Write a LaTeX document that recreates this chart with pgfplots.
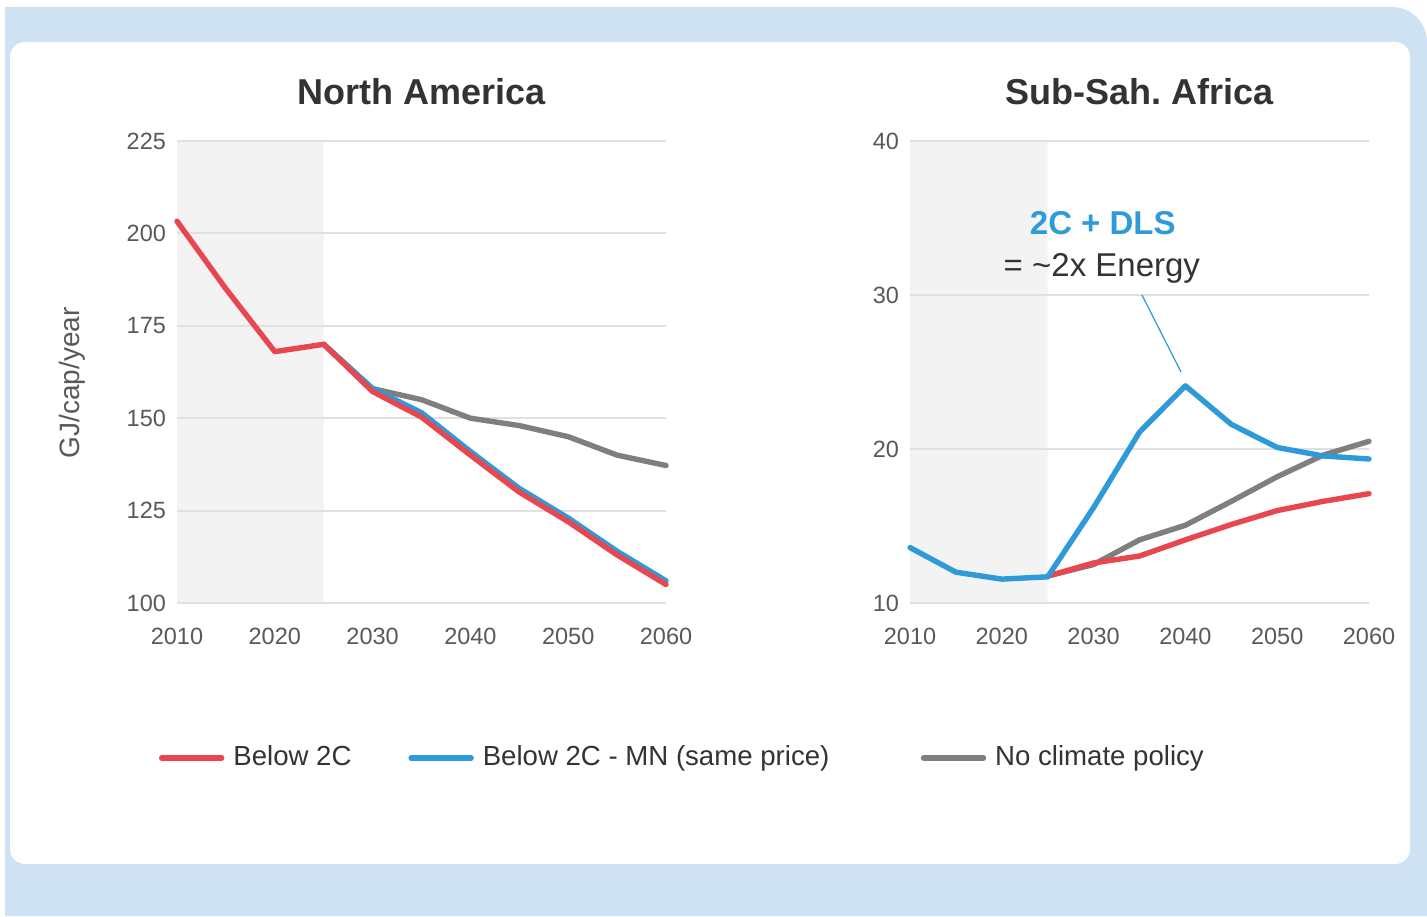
\documentclass[border=0pt]{standalone}
\usepackage{fontspec}
\setmainfont{Liberation Sans}
\usepackage{pgfplots}
\pgfplotsset{compat=1.18}
\definecolor{bgblue}{HTML}{CFE2F3}
\definecolor{cred}{HTML}{E8474F}
\definecolor{cblue}{HTML}{2E9AD8}
\definecolor{cgray}{HTML}{7F7F7F}
\definecolor{ctitle}{HTML}{333333}
\definecolor{ctick}{HTML}{595959}
\definecolor{cgrid}{HTML}{E0E0E0}
\definecolor{cshade}{HTML}{F3F3F3}

\pgfplotsset{
 myaxis/.style={
  scale only axis, clip=false,
  axis line style={draw=none},
  major tick length=0pt,
  xmin=2010, xmax=2060, xtick={2010,2020,...,2060},
  /pgf/number format/assume math mode=true,
  /pgf/number format/1000 sep={},
  ticklabel style={font=\fontsize{11.75}{14}\selectfont, text=ctick},
  xticklabel style={yshift=-9pt},
  yticklabel style={xshift=-2pt},
  title style={at={(0.5,1)}, anchor=base, yshift=12pt, font=\fontsize{18}{21}\selectfont\bfseries, text=ctitle},
  every axis plot/.append style={line width=2.7pt, line join=round, line cap=round},
  grid line/.style={cgrid, line width=1pt, line cap=butt, forget plot},
 }
}

\begin{document}
\frenchspacing
\begin{tikzpicture}
\fill[bgblue] (2.5pt,0) -- (2.5pt,454.5pt) -- (696pt,454.5pt) arc[start angle=90,end angle=0,radius=17.5pt] -- (713.5pt,0) -- cycle;
\fill[white,rounded corners=7.5pt] (5pt,26pt) rectangle (705pt,437pt);
\node[rotate=90, font=\fontsize{14}{16}\selectfont, text=ctick] at (36pt,266.5pt) {GJ/cap/year};

\begin{axis}[myaxis, at={(88.5pt,156.5pt)}, anchor=south west,
  width=244.5pt, height=231pt, ymin=100, ymax=225, ytick={100,125,...,225},
  title={North America},
  legend columns=3,
  legend style={draw=none, fill=none, inner sep=0pt, outer sep=0pt,
    at={(-0.0368,-0.3333)}, anchor=west,
    font=\fontsize{13.8}{16}\selectfont, text=ctitle,
    cells={anchor=west},
    nodes={inner sep=0pt, outer sep=0pt},
    column sep=0pt,
    /tikz/every odd column/.append style={column sep=4.5pt}},
  legend image code/.code={\path (0pt,-0.5pt) -- (30pt,-0.5pt); \draw[#1, line width=3.4pt, line cap=round] (1.7pt,-0.5pt) -- (28.6pt,-0.5pt);},
]
\addlegendimage{cred}
\addlegendentry{\makebox[87.5pt][l]{Below 2C}}
\addlegendimage{cblue}
\addlegendentry{\makebox[219pt][l]{Below 2C - MN (same price)}}
\addlegendimage{cgray}
\addlegendentry{No climate policy}

\addplot[fill=cshade, draw=none, forget plot, line width=0pt]
  coordinates {(2010,100) (2025,100) (2025,225) (2010,225) (2010,100)};
\addplot[grid line] coordinates {(2010,100) (2060,100)};
\addplot[grid line] coordinates {(2010,125) (2060,125)};
\addplot[grid line] coordinates {(2010,150) (2060,150)};
\addplot[grid line] coordinates {(2010,175) (2060,175)};
\addplot[grid line] coordinates {(2010,200) (2060,200)};
\addplot[grid line] coordinates {(2010,225) (2060,225)};

\addplot[cgray, forget plot] coordinates {
 (2025,170) (2030,158) (2035,155) (2040,150) (2045,148) (2050,145) (2055,140) (2060,137.2)};
\addplot[cblue, forget plot] coordinates {
 (2025,170) (2030,158) (2035,151.5) (2040,141) (2045,131) (2050,123) (2055,114) (2060,106)};
\addplot[cred, forget plot] coordinates {
 (2010,203.3) (2015,185) (2020,168) (2025,170) (2030,157.2) (2035,150.3) (2040,140) (2045,130) (2050,122) (2055,113) (2060,105)};
\end{axis}

\begin{axis}[myaxis, at={(455pt,156.5pt)}, anchor=south west,
  width=229.5pt, height=231pt, ymin=10, ymax=40, ytick={10,20,30,40},
  title={Sub-Sah. Africa}]
\addplot[fill=cshade, draw=none, forget plot, line width=0pt]
  coordinates {(2010,10) (2025,10) (2025,40) (2010,40) (2010,10)};
\addplot[grid line] coordinates {(2010,10) (2060,10)};
\addplot[grid line] coordinates {(2010,20) (2060,20)};
\addplot[grid line] coordinates {(2010,30) (2060,30)};
\addplot[grid line] coordinates {(2010,40) (2060,40)};

\addplot[cgray] coordinates {
 (2025,11.75) (2030,12.5) (2035,14.1) (2040,15.05) (2045,16.6) (2050,18.2) (2055,19.6) (2060,20.5)};
\addplot[cred] coordinates {
 (2025,11.75) (2030,12.6) (2035,13.05) (2040,14.1) (2045,15.1) (2050,16.0) (2055,16.6) (2060,17.1)};
\addplot[cblue] coordinates {
 (2010,13.6) (2015,12.0) (2020,11.55) (2025,11.7) (2030,16.2) (2035,21.1) (2040,24.1) (2045,21.6) (2050,20.1) (2055,19.55) (2060,19.35)};

\draw[cblue, line width=0.6pt] (axis cs:2035.27,30.0) -- (axis cs:2039.52,25.0);
\node[anchor=base, font=\fontsize{16.5}{19}\selectfont\bfseries, text=cblue] at (axis cs:2031,33.96) {2C + DLS};
\node[anchor=base, font=\fontsize{16.5}{19}\selectfont, text=ctitle] at (axis cs:2030.9,31.17) {= \char`\~2x Energy};
\end{axis}
\pgfresetboundingbox
\path[use as bounding box] (0,0) rectangle (713.5pt,458pt);
\end{tikzpicture}
\end{document}
